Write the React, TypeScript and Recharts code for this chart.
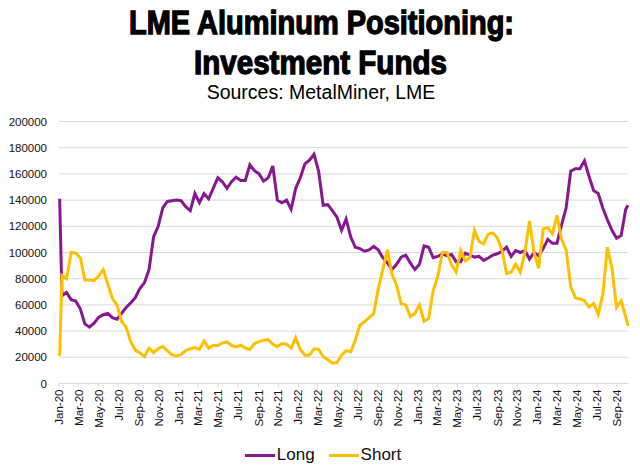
import { LineChart, Line, XAxis, YAxis, CartesianGrid, Legend } from 'recharts';

const MONTHS = ['Jan', 'Feb', 'Mar', 'Apr', 'May', 'Jun', 'Jul', 'Aug', 'Sep', 'Oct', 'Nov', 'Dec'];
const DAY = 86400000;

// x axis labels, every two months
const tickLabels = [
    'Jan-20', 'Mar-20', 'May-20', 'Jul-20', 'Sep-20', 'Nov-20',
    'Jan-21', 'Mar-21', 'May-21', 'Jul-21', 'Sep-21', 'Nov-21',
    'Jan-22', 'Mar-22', 'May-22', 'Jul-22', 'Sep-22', 'Nov-22',
    'Jan-23', 'Mar-23', 'May-23', 'Jul-23', 'Sep-23', 'Nov-23',
    'Jan-24', 'Mar-24', 'May-24', 'Jul-24', 'Sep-24',
];
const yTicks = [0, 20000, 40000, 60000, 80000, 100000, 120000, 140000, 160000, 180000, 200000];

// report dates: first print, then every other week, then the last print
const firstDate = '2020-01-03';
const biweeklyStart = '2020-01-10';
const biweeklyCount = 124;
const lastDate = '2024-10-04';

const longValues = [
    141000,
    67000, 69500, 64000, 63000, 57000, 45500, 43000, 46000, 50500, 52500, 53500, 50300, 49000,
    53500, 58000, 61500, 65500, 72500, 77000, 87000, 112000, 120000, 134000, 139000, 139500,
    140000, 139500, 135000, 132000, 145000, 138000, 145000, 141000, 149000, 157000, 154000, 149000,
    154000, 157500, 155000, 155000, 167000, 162500, 160000, 154500, 157000, 166000, 140000, 138000, 140000,
    133000, 149000, 157000, 167600, 170500, 175000, 162000, 136000, 136500, 132000, 127000, 117000,
    125500, 112000, 104000, 103000, 101000, 102000, 104600, 102000, 96000, 92000, 87000, 91000, 96500,
    98000, 92000, 87000, 91000, 105000, 104000, 96000, 97000, 99000, 97500, 98500, 93000, 93000,
    99500, 98000, 96500, 97000, 94000, 95800, 98000, 99000, 101000, 104000, 97000, 101500,
    100000, 101600, 95000, 100000, 97500, 103000, 110000, 107000, 107000, 121000, 134000, 162000,
    164000, 164000, 170000, 158000, 147300, 145000, 134000, 125000, 117000, 111000, 113000, 133000,
    136000,
];

const shortValues = [
    21000,
    82500, 80000, 100000, 99600, 96000, 79000, 79000, 78500, 82000, 87000, 76000, 65000, 60000,
    47500, 43000, 32000, 25500, 23400, 20500, 27000, 23600, 26500, 28400, 25000, 21800,
    21000, 22000, 25200, 26500, 27400, 26000, 32500, 27000, 29000, 29000, 31000, 31700,
    29000, 28000, 29200, 27000, 26000, 30500, 32000, 33000, 33500, 30000, 28000, 30500, 30000,
    27000, 35000, 26000, 21600, 21500, 26500, 26000, 20500, 18300, 15500, 16000, 21600,
    25000, 24200, 33000, 44500, 47000, 50300, 53300, 72000, 87000, 102000, 83500, 75000, 61000,
    60000, 51000, 53500, 60000, 47500, 49500, 71000, 82000, 100000, 100000, 90500, 85000, 101600,
    93500, 96000, 117000, 108500, 106500, 114000, 115000, 111000, 102000, 84000, 85000, 91000,
    85000, 100000, 124000, 100000, 88000, 118000, 119000, 114300, 128300, 110000, 102000, 74000,
    65500, 64500, 63200, 58400, 61000, 52800, 68000, 104000, 88000, 58000, 63000, 51000,
    44000,
];

const toTime = (s: string) => new Date(s + 'T00:00:00Z').getTime();

const dates = [
    toTime(firstDate),
    ...Array.from({ length: biweeklyCount }, (_, i) => toTime(biweeklyStart) + i * 14 * DAY),
    toTime(lastDate),
];

const tickValues = tickLabels.map((l) => {
    const [m, y] = l.split('-');
    return Date.UTC(2000 + Number(y), MONTHS.indexOf(m), 1);
});

const data = dates.map((d, i) => ({ date: d, Long: longValues[i], Short: shortValues[i] }));

const LONG_COLOR = '#86198F';
const SHORT_COLOR = '#FFC000';
const TEXT = '#111111';
const SANS = "'Liberation Sans', Arial, sans-serif";

const DateTick = ({ x, y, payload }: any) => (
    <g transform={`translate(${x},${y})`}>
        <text transform="rotate(-90)" textAnchor="end" dy="0.36em" fontSize={11.5} fill={TEXT} fontFamily={SANS}>
            {tickLabels[tickValues.indexOf(payload.value)]}
        </text>
    </g>
);

const LegendContent = ({ payload }: any) => (
    <div style={{ display: 'flex', justifyContent: 'center', height: 24, lineHeight: '24px', paddingLeft: 6 }}>
        {(payload || []).map((p: any, i: number) => (
            <div key={p.value} style={{ display: 'flex', alignItems: 'center', marginLeft: i ? 14 : 0 }}>
                <span style={{ display: 'inline-block', width: 30, height: 3, background: p.color, marginRight: 2 }} />
                <span style={{ fontFamily: SANS, fontSize: 17, color: TEXT }}>{p.value}</span>
            </div>
        ))}
    </div>
);

export default function App() {
    return (
        <div style={{ position: 'absolute', left: 0, top: 0, width: 640, height: 474, background: '#fff' }}>
            <svg width={640} height={115} style={{ position: 'absolute', left: 0, top: 0 }}>
                <g fontFamily="'Liberation Sans Narrow', 'Liberation Sans', sans-serif" fontWeight="bold" fill="#000" stroke="#000" strokeWidth={1.3}>
                    <text x={321.5} y={34.3} fontSize={33} textAnchor="middle" textLength={385} lengthAdjust="spacingAndGlyphs">
                        LME Aluminum Positioning:
                    </text>
                    <text x={320.5} y={74} fontSize={33} textAnchor="middle" textLength={253} lengthAdjust="spacingAndGlyphs">
                        Investment Funds
                    </text>
                </g>
                <text x={321} y={99} fontSize={19.5} textAnchor="middle" fill="#000" fontFamily={SANS}>
                    Sources: MetalMiner, LME
                </text>
            </svg>
            <div style={{ position: 'absolute', left: 0, top: 0 }}>
                <LineChart width={640} height={474} data={data} margin={{ top: 121.5, right: 12, bottom: 7, left: 0 }}>
                    <CartesianGrid vertical={false} stroke="#D9D9D9" strokeWidth={1} />
                    <XAxis
                        dataKey="date"
                        type="number"
                        scale="time"
                        domain={[Date.UTC(2020, 0, 1), 'dataMax']}
                        ticks={tickValues}
                        interval={0}
                        tick={<DateTick />}
                        height={59.5}
                        stroke="#D9D9D9"
                        tickSize={4}
                        tickMargin={2}
                    />
                    <YAxis
                        domain={[0, 200000]}
                        ticks={yTicks}
                        width={59}
                        axisLine={false}
                        tickLine={false}
                        tickSize={0}
                        tickMargin={12}
                        tick={{ fontSize: 11.5, fill: TEXT, fontFamily: SANS }}
                    />
                    <Legend verticalAlign="bottom" content={<LegendContent />} wrapperStyle={{ left: 0, width: 640 }} />
                    <Line type="linear" dataKey="Long" stroke={LONG_COLOR} strokeWidth={3} dot={false} isAnimationActive={false} />
                    <Line type="linear" dataKey="Short" stroke={SHORT_COLOR} strokeWidth={3} dot={false} isAnimationActive={false} />
                </LineChart>
            </div>
        </div>
    );
}
